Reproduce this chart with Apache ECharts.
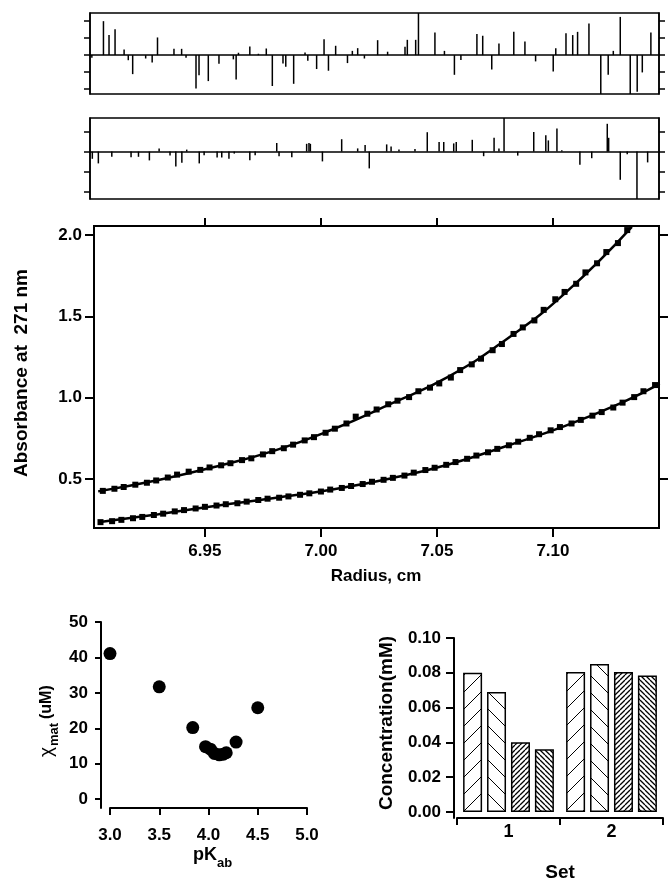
<!DOCTYPE html>
<html><head><meta charset="utf-8">
<script src="https://cdn.jsdelivr.net/npm/echarts@6/dist/echarts.min.js"></script>
<style>html,body{margin:0;padding:0;background:#fff;}#c{width:669px;height:881px;}</style>
</head><body><div id="c"></div>
<script>
// ---------- data ----------
const radiusTicks = [6.95, 7.00, 7.05, 7.10];
const absTicks = [0.5, 1.0, 1.5, 2.0];
const residTicks1 = [-2, -1, 0, 1, 2];
const residTicks2 = [-2, -1, 0, 1];
const resid1 = [[6.9012,-0.15],[6.9062,2.0],[6.9086,1.18],[6.9112,1.53],[6.9151,0.33],[6.9169,-0.3],[6.9188,-1.12],[6.9244,-0.2],[6.9272,-0.43],[6.9295,1.04],[6.9366,0.37],[6.9399,0.37],[6.9418,-0.16],[6.9461,-1.96],[6.9474,-1.18],[6.9514,-1.53],[6.9560,-0.51],[6.9622,-0.25],[6.9634,-1.43],[6.9644,0.14],[6.9693,0.51],[6.9730,0.08],[6.9764,0.39],[6.9790,-1.82],[6.9836,-0.49],[6.9848,-0.69],[6.9882,-1.69],[6.9931,0.16],[6.9943,-0.33],[6.9981,-0.82],[7.0013,0.94],[7.0032,-0.92],[7.0063,0.55],[7.0114,-0.47],[7.0135,0.25],[7.0158,0.41],[7.0187,-0.2],[7.0244,0.88],[7.0287,0.2],[7.0362,0.49],[7.0372,0.9],[7.0408,0.9],[7.0420,2.6],[7.0491,1.33],[7.0532,0.25],[7.0575,-1.16],[7.0603,-0.29],[7.0672,1.24],[7.0697,1.14],[7.0736,-0.84],[7.0767,0.69],[7.0831,1.37],[7.0879,0.8],[7.0925,-0.37],[7.1001,-0.96],[7.1012,0.41],[7.1056,1.29],[7.1085,1.18],[7.1106,1.37],[7.1155,1.86],[7.1206,-2.4],[7.1238,-1.16],[7.1260,0.25],[7.1290,2.25],[7.1333,-2.4],[7.1363,-2.16],[7.1385,-1.02],[7.1422,1.33]];
const resid2 = [[6.9014,-0.36],[6.9040,-0.59],[6.9098,-0.26],[6.9181,-0.28],[6.9213,-0.26],[6.9260,-0.44],[6.9302,0.16],[6.9349,-0.2],[6.9374,-0.75],[6.9400,-0.56],[6.9421,0.1],[6.9475,-0.59],[6.9496,-0.18],[6.9552,-0.3],[6.9572,-0.3],[6.9603,-0.36],[6.9626,-0.1],[6.9693,-0.43],[6.9716,-0.18],[6.9809,0.43],[6.9819,-0.23],[6.9874,-0.28],[6.9938,0.39],[6.9948,0.43],[6.9954,0.39],[7.0006,-0.49],[7.0089,0.62],[7.0158,0.16],[7.0190,0.33],[7.0208,-0.84],[7.0283,0.36],[7.0302,0.26],[7.0336,0.1],[7.0405,0.13],[7.0458,0.97],[7.0509,0.48],[7.0529,0.48],[7.0572,0.41],[7.0583,0.48],[7.0652,0.59],[7.0701,-0.23],[7.0746,0.69],[7.0767,0.16],[7.0789,1.8],[7.0848,-0.2],[7.0917,0.98],[7.0969,0.82],[7.0980,0.56],[7.1017,1.15],[7.1038,0.07],[7.1116,-0.66],[7.1167,-0.33],[7.1234,1.39],[7.1240,0.69],[7.1290,-1.41],[7.1320,-0.13],[7.1362,-2.5],[7.1408,-0.54]];
const upperPoints = [[6.906,0.428],[6.911,0.441],[6.915,0.452],[6.920,0.466],[6.925,0.478],[6.929,0.492],[6.934,0.510],[6.938,0.528],[6.943,0.546],[6.948,0.557],[6.952,0.572],[6.957,0.585],[6.961,0.598],[6.966,0.617],[6.970,0.628],[6.975,0.652],[6.979,0.672],[6.984,0.690],[6.988,0.712],[6.993,0.738],[6.997,0.758],[7.002,0.785],[7.006,0.810],[7.011,0.842],[7.015,0.884],[7.020,0.902],[7.024,0.928],[7.029,0.960],[7.033,0.982],[7.038,1.004],[7.042,1.040],[7.047,1.062],[7.051,1.088],[7.056,1.124],[7.060,1.170],[7.065,1.205],[7.069,1.240],[7.074,1.292],[7.078,1.330],[7.083,1.392],[7.087,1.432],[7.092,1.475],[7.096,1.540],[7.101,1.605],[7.105,1.650],[7.110,1.700],[7.114,1.770],[7.119,1.826],[7.123,1.895],[7.128,1.950],[7.132,2.030]];
const lowerPoints = [[6.905,0.236],[6.910,0.242],[6.914,0.250],[6.919,0.260],[6.923,0.268],[6.928,0.280],[6.932,0.288],[6.937,0.302],[6.941,0.310],[6.946,0.320],[6.950,0.330],[6.955,0.338],[6.959,0.346],[6.964,0.352],[6.968,0.362],[6.973,0.372],[6.977,0.380],[6.982,0.386],[6.986,0.394],[6.991,0.404],[6.995,0.413],[7.000,0.424],[7.004,0.436],[7.009,0.446],[7.013,0.458],[7.018,0.470],[7.022,0.484],[7.027,0.496],[7.031,0.508],[7.036,0.522],[7.040,0.540],[7.045,0.556],[7.049,0.570],[7.054,0.588],[7.058,0.605],[7.063,0.625],[7.067,0.645],[7.072,0.665],[7.076,0.686],[7.081,0.708],[7.085,0.730],[7.090,0.754],[7.094,0.776],[7.099,0.800],[7.103,0.820],[7.108,0.842],[7.112,0.864],[7.117,0.890],[7.121,0.912],[7.126,0.940],[7.130,0.970],[7.135,1.004],[7.139,1.040],[7.144,1.078]];
const upperFit = [[6.904,0.425],[6.930,0.495],[6.955,0.578],[6.980,0.675],[7.005,0.805],[7.030,0.962],[7.055,1.130],[7.080,1.360],[7.105,1.640],[7.134,2.050]];
const lowerFit = [[6.904,0.235],[6.930,0.285],[6.955,0.337],[6.980,0.384],[7.005,0.437],[7.030,0.504],[7.055,0.590],[7.080,0.704],[7.105,0.826],[7.130,0.972],[7.146,1.085]];
const pKab = [3.0, 3.5, 3.84, 3.97, 4.02, 4.06, 4.11, 4.15, 4.18, 4.28, 4.5];
const chiMat = [41.1, 31.7, 20.2, 14.8, 14.1, 12.9, 12.5, 12.7, 13.1, 16.1, 25.8];
const chiTicks = [0, 10, 20, 30, 40, 50];
const sets = ['1', '2'];
const conc1 = [0.080, 0.0805];
const conc2 = [0.069, 0.085];
const conc3 = [0.040, 0.0805];
const conc4 = [0.036, 0.0785];
const concTicks = [0, 0.02, 0.04, 0.06, 0.08, 0.10];

// ---------- styling helpers ----------
const FONT = 'Liberation Sans, Arial, Helvetica, sans-serif';
function hatch(size, dir, lw) {
  const c = document.createElement('canvas');
  c.width = size; c.height = size;
  const g = c.getContext('2d');
  g.fillStyle = '#fff'; g.fillRect(0, 0, size, size);
  g.strokeStyle = '#000'; g.lineWidth = lw;
  g.beginPath();
  for (const k of [-size, 0, size]) {
    if (dir > 0) { g.moveTo(k, size); g.lineTo(k + size, 0); }
    else { g.moveTo(k, 0); g.lineTo(k + size, size); }
  }
  g.stroke();
  return c;
}
const lbl = (size) => ({ fontFamily: FONT, fontWeight: 'bold', fontSize: size, color: '#000' });
const blackLine = (w) => ({ color: '#000', width: w });

const residX = (gi) => ({ type: 'value', gridIndex: gi, min: 6.9004, max: 7.1457,
  axisLine: { show: true, onZero: true, lineStyle: blackLine(1.5) },
  axisTick: { show: false }, axisLabel: { show: false }, splitLine: { show: false } });
const residY = (gi, pos, mn, mx, ticks) => ({ type: 'value', gridIndex: gi, position: pos, min: mn, max: mx,
  axisLine: { show: true, onZero: false, lineStyle: blackLine(1.5) },
  axisTick: { show: true, length: 6, customValues: ticks, lineStyle: blackLine(1.5) },
  axisLabel: { show: false }, splitLine: { show: false } });

const chart = echarts.init(document.getElementById('c'), null, { renderer: 'canvas' });
chart.setOption({
  animation: false,
  backgroundColor: '#fff',
  grid: [
    { left: 90, top: 13, width: 569, height: 81, show: true, borderColor: '#000', borderWidth: 1.5, backgroundColor: 'transparent' },
    { left: 90, top: 118, width: 569, height: 81, show: true, borderColor: '#000', borderWidth: 1.5, backgroundColor: 'transparent' },
    { left: 94, top: 226, width: 565, height: 302, show: true, borderColor: '#000', borderWidth: 2, backgroundColor: 'transparent' },
    { left: 110, top: 622, width: 197, height: 186 },
    { left: 457, top: 638, width: 206, height: 180 }
  ],
  xAxis: [
    residX(0), residX(1),
    { type: 'value', gridIndex: 2, min: 6.9022, max: 7.1457, position: 'bottom',
      axisLine: { show: true, onZero: false, lineStyle: blackLine(2) },
      axisTick: { show: true, length: 9, customValues: radiusTicks, lineStyle: blackLine(2) },
      axisLabel: { ...lbl(17), margin: 15, customValues: radiusTicks, formatter: v => v.toFixed(2) },
      splitLine: { show: false } },
    { type: 'value', gridIndex: 2, min: 6.9022, max: 7.1457, position: 'top',
      axisLine: { show: true, onZero: false, lineStyle: blackLine(2) },
      axisTick: { show: true, length: 8, customValues: radiusTicks, lineStyle: blackLine(2) },
      axisLabel: { show: false }, splitLine: { show: false } },
    { type: 'value', gridIndex: 3, min: 3.0, max: 5.0, interval: 0.5,
      axisLine: { show: true, onZero: false, lineStyle: blackLine(2) },
      axisTick: { show: true, length: 7, lineStyle: blackLine(2) },
      axisLabel: { ...lbl(17), margin: 19, formatter: v => v.toFixed(1) },
      splitLine: { show: false } },
    { type: 'category', gridIndex: 4, data: sets,
      axisLine: { show: true, onZero: false, lineStyle: blackLine(2) },
      axisTick: { show: true, length: 7, lineStyle: blackLine(2) },
      axisLabel: { ...lbl(18), margin: 5 } }
  ],
  yAxis: [
    residY(0, 'left', -2.29, 2.48, residTicks1), residY(0, 'right', -2.29, 2.48, residTicks1),
    residY(1, 'left', -2.37, 1.68, residTicks2), residY(1, 'right', -2.37, 1.68, residTicks2),
    { type: 'value', gridIndex: 2, position: 'left', min: 0.2, max: 2.055,
      axisLine: { show: true, onZero: false, lineStyle: blackLine(2) },
      axisTick: { show: true, length: 9, customValues: absTicks, lineStyle: blackLine(2) },
      axisLabel: { ...lbl(17), margin: 12, customValues: absTicks, formatter: v => v.toFixed(1) },
      splitLine: { show: false } },
    { type: 'value', gridIndex: 2, position: 'right', min: 0.2, max: 2.055,
      axisLine: { show: true, onZero: false, lineStyle: blackLine(2) },
      axisTick: { show: true, length: 9, customValues: absTicks, lineStyle: blackLine(2) },
      axisLabel: { show: false }, splitLine: { show: false } },
    { type: 'value', gridIndex: 3, min: -2.5, max: 50, offset: 9,
      axisLine: { show: true, onZero: false, lineStyle: blackLine(2) },
      axisTick: { show: true, length: 6, customValues: chiTicks, lineStyle: blackLine(2) },
      axisLabel: { ...lbl(17), margin: 13, customValues: chiTicks },
      splitLine: { show: false } },
    { type: 'value', gridIndex: 4, min: -0.0035, max: 0.10, offset: 3,
      axisLine: { show: true, onZero: false, lineStyle: blackLine(2) },
      axisTick: { show: true, length: 8, customValues: concTicks, lineStyle: blackLine(2) },
      axisLabel: { ...lbl(17), margin: 13, customValues: concTicks, formatter: v => v.toFixed(2) },
      splitLine: { show: false } }
  ],
  series: [
    { type: 'bar', xAxisIndex: 0, yAxisIndex: 0, data: resid1, barWidth: 1.5, clip: true, silent: true, itemStyle: { color: '#000' } },
    { type: 'bar', xAxisIndex: 1, yAxisIndex: 2, data: resid2, barWidth: 1.5, clip: true, silent: true, itemStyle: { color: '#000' } },
    { type: 'line', xAxisIndex: 2, yAxisIndex: 4, data: upperFit, smooth: true, showSymbol: false, lineStyle: { color: '#000', width: 2.5 } },
    { type: 'line', xAxisIndex: 2, yAxisIndex: 4, data: lowerFit, smooth: true, showSymbol: false, lineStyle: { color: '#000', width: 2.5 } },
    { type: 'scatter', xAxisIndex: 2, yAxisIndex: 4, data: upperPoints, symbol: 'rect', symbolSize: 6, itemStyle: { color: '#000', opacity: 1 } },
    { type: 'scatter', xAxisIndex: 2, yAxisIndex: 4, data: lowerPoints, symbol: 'rect', symbolSize: 6, itemStyle: { color: '#000', opacity: 1 } },
    { type: 'scatter', xAxisIndex: 4, yAxisIndex: 6, data: pKab.map((p, i) => [p, chiMat[i]]), symbol: 'circle', symbolSize: 13, itemStyle: { color: '#000', opacity: 1 } },
    { type: 'bar', xAxisIndex: 5, yAxisIndex: 7, data: conc1, barWidth: 19, barGap: '26%', itemStyle: { color: { image: hatch(17, 1, 1), repeat: 'repeat' }, borderColor: '#000', borderWidth: 1.5 } },
    { type: 'bar', xAxisIndex: 5, yAxisIndex: 7, data: conc2, barWidth: 19, barGap: '26%', itemStyle: { color: { image: hatch(17, -1, 1), repeat: 'repeat' }, borderColor: '#000', borderWidth: 1.5 } },
    { type: 'bar', xAxisIndex: 5, yAxisIndex: 7, data: conc3, barWidth: 19, barGap: '26%', itemStyle: { color: { image: hatch(5, 1, 1.3), repeat: 'repeat' }, borderColor: '#000', borderWidth: 1.5 } },
    { type: 'bar', xAxisIndex: 5, yAxisIndex: 7, data: conc4, barWidth: 19, barGap: '26%', itemStyle: { color: { image: hatch(5, -1, 1.3), repeat: 'repeat' }, borderColor: '#000', borderWidth: 1.5 } }
  ],
  graphic: [
    { type: 'text', x: 22, y: 373, rotation: Math.PI / 2, style: { text: 'Absorbance at  271 nm', font: 'bold 19px ' + FONT, fill: '#000', align: 'center', verticalAlign: 'middle' } },
    { type: 'text', x: 376, y: 576, style: { text: 'Radius, cm', font: 'bold 17px ' + FONT, fill: '#000', align: 'center', verticalAlign: 'middle' } },
    { type: 'text', x: 47, y: 757, rotation: Math.PI / 2, style: { text: 'χ', font: '19px ' + FONT, fill: '#000', align: 'left', verticalAlign: 'middle' } },
    { type: 'text', x: 54, y: 746, rotation: Math.PI / 2, style: { text: 'mat', font: 'bold 13px ' + FONT, fill: '#000', align: 'left', verticalAlign: 'middle' } },
    { type: 'text', x: 47, y: 719, rotation: Math.PI / 2, style: { text: '(uM)', font: 'bold 16px ' + FONT, fill: '#000', align: 'left', verticalAlign: 'middle' } },
    { type: 'text', x: 193, y: 855, style: { text: 'pK', font: 'bold 18px ' + FONT, fill: '#000', align: 'left', verticalAlign: 'middle' } },
    { type: 'text', x: 217, y: 863, style: { text: 'ab', font: 'bold 13px ' + FONT, fill: '#000', align: 'left', verticalAlign: 'middle' } },
    { type: 'text', x: 387, y: 723, rotation: Math.PI / 2, style: { text: 'Concentration(mM)', font: 'bold 19px ' + FONT, fill: '#000', align: 'center', verticalAlign: 'middle' } },
    { type: 'text', x: 560, y: 873, style: { text: 'Set', font: 'bold 19px ' + FONT, fill: '#000', align: 'center', verticalAlign: 'middle' } }
  ]
});
</script></body></html>
